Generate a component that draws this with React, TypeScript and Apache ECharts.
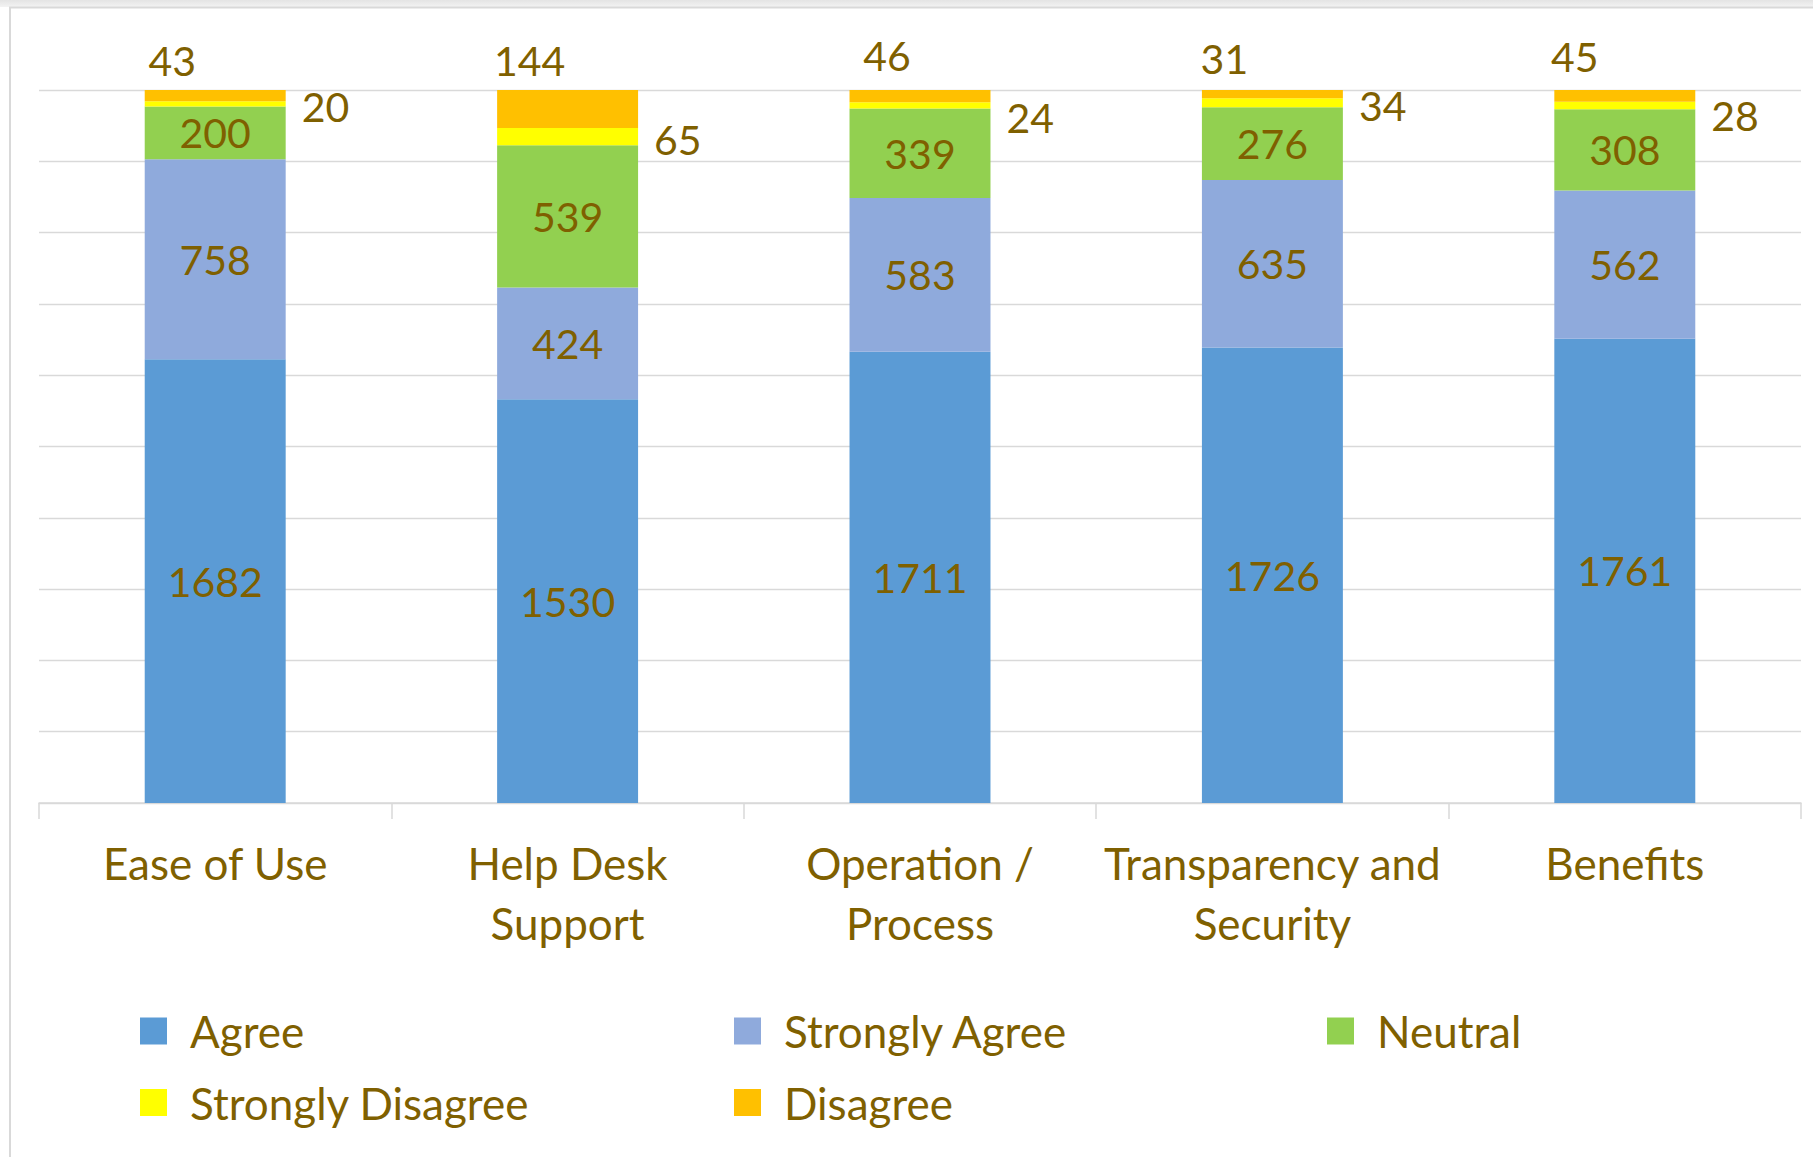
import React, { useEffect, useRef } from "react";
import * as echarts from "echarts";

// ---- data ----
const categories = [
  "Ease of Use",
  "Help Desk\nSupport",
  "Operation /\nProcess",
  "Transparency and\nSecurity",
  "Benefits",
];
const seriesNames = ["Agree", "Strongly Agree", "Neutral", "Strongly Disagree", "Disagree"];
const agree = [1682, 1530, 1711, 1726, 1761];
const stronglyAgree = [758, 424, 583, 635, 562];
const neutral = [200, 539, 339, 276, 308];
const stronglyDisagree = [20, 65, 24, 34, 28];
const disagree = [43, 144, 46, 31, 45];

// ---- styles ----
const colors = ["#5B9BD5", "#8FAADC", "#92D050", "#FFFF00", "#FFC000"];
const TEXT = "#7F6000";
const FONT = "Lato";
const FS_NUM = 41;
const FS_TXT = 44;
// label nudges (styling only)
const disagreeLabelOffsets = [
  [-43, -4],
  [-38, -4],
  [-33, -9],
  [-48, -6],
  [-50, -8],
];
const sdLabelOffsets = [
  [0, 3],
  [0, 3],
  [0, 12],
  [0, 3],
  [0, 10],
];

export default function App() {
  const ref = useRef<HTMLDivElement>(null);
  useEffect(() => {
    if (!ref.current) return;
    const chart = echarts.init(ref.current, null, { renderer: "svg" });
    const raws = [agree, stronglyAgree, neutral, stronglyDisagree, disagree];
    const totals = categories.map((_, i) => raws.reduce((s, arr) => s + arr[i], 0));

    const series = raws.map((arr, si) => {
      const data = arr.map((v, i) => {
        const item: any = { value: (v / totals[i]) * 100 };
        if (si === 4) item.label = { offset: disagreeLabelOffsets[i] };
        if (si === 3) item.label = { offset: sdLabelOffsets[i] };
        return item;
      });
      let position: any = "inside";
      let distance = 5;
      if (si === 4) position = "top";
      if (si === 3) {
        position = "right";
        distance = 16;
      }
      return {
        name: seriesNames[si],
        type: "bar",
        stack: "total",
        barWidth: "40%",
        itemStyle: { color: colors[si] },
        label: {
          show: true,
          position,
          distance,
          color: TEXT,
          fontFamily: FONT,
          fontSize: FS_NUM,
          lineHeight: 41,
          formatter: (p: any) => String(arr[p.dataIndex]),
        },
        data,
      };
    });

    const legendCommon = {
      orient: "vertical",
      top: 1009,
      padding: 0,
      itemWidth: 27,
      itemHeight: 27,
      itemGap: 27.5,
      icon: "rect",
      textStyle: {
        color: TEXT,
        fontFamily: FONT,
        fontSize: FS_TXT,
        lineHeight: 44,
        padding: [0, 0, 0, 18],
      },
    };

    chart.setOption({
      animation: false,
      backgroundColor: "#ffffff",
      grid: { left: 39, right: 12, top: 90, bottom: 354, containLabel: false },
      legend: [
        { ...legendCommon, left: 140, data: ["Agree", "Strongly Disagree"] },
        { ...legendCommon, left: 734, data: ["Strongly Agree", "Disagree"] },
        { ...legendCommon, left: 1327, data: ["Neutral"] },
      ],
      xAxis: {
        type: "category",
        data: categories,
        axisLine: { lineStyle: { color: "#D9D9D9", width: 1.5 } },
        axisTick: { show: true, length: 16, lineStyle: { color: "#D9D9D9", width: 1.5 } },
        axisLabel: {
          color: TEXT,
          fontFamily: FONT,
          fontSize: FS_TXT,
          lineHeight: 60,
          margin: 30,
          interval: 0,
        },
      },
      yAxis: {
        type: "value",
        min: 0,
        max: 100,
        interval: 10,
        axisLabel: { show: false },
        axisLine: { show: false },
        axisTick: { show: false },
        splitLine: { lineStyle: { color: "#D9D9D9", width: 1.3 } },
      },
      graphic: [
        {
          type: "rect",
          shape: { x: 0, y: 0, width: 1813, height: 7 },
          style: {
            fill: new echarts.graphic.LinearGradient(0, 0, 0, 1, [
              { offset: 0, color: "#E4E4E4" },
              { offset: 1, color: "#F3F3F3" },
            ]),
          },
          silent: true,
        },
        {
          type: "line",
          shape: { x1: 9, y1: 7.5, x2: 1813, y2: 7.5 },
          style: { stroke: "#D9D9D9", lineWidth: 2 },
          silent: true,
        },
        {
          type: "line",
          shape: { x1: 10, y1: 7, x2: 10, y2: 1157 },
          style: { stroke: "#D9D9D9", lineWidth: 2 },
          silent: true,
        },
      ],
      series,
    });
    return () => chart.dispose();
  }, []);
  return (
    <div
      ref={ref}
      style={{ position: "absolute", left: 0, top: 0, width: 1813, height: 1157 }}
    />
  );
}
